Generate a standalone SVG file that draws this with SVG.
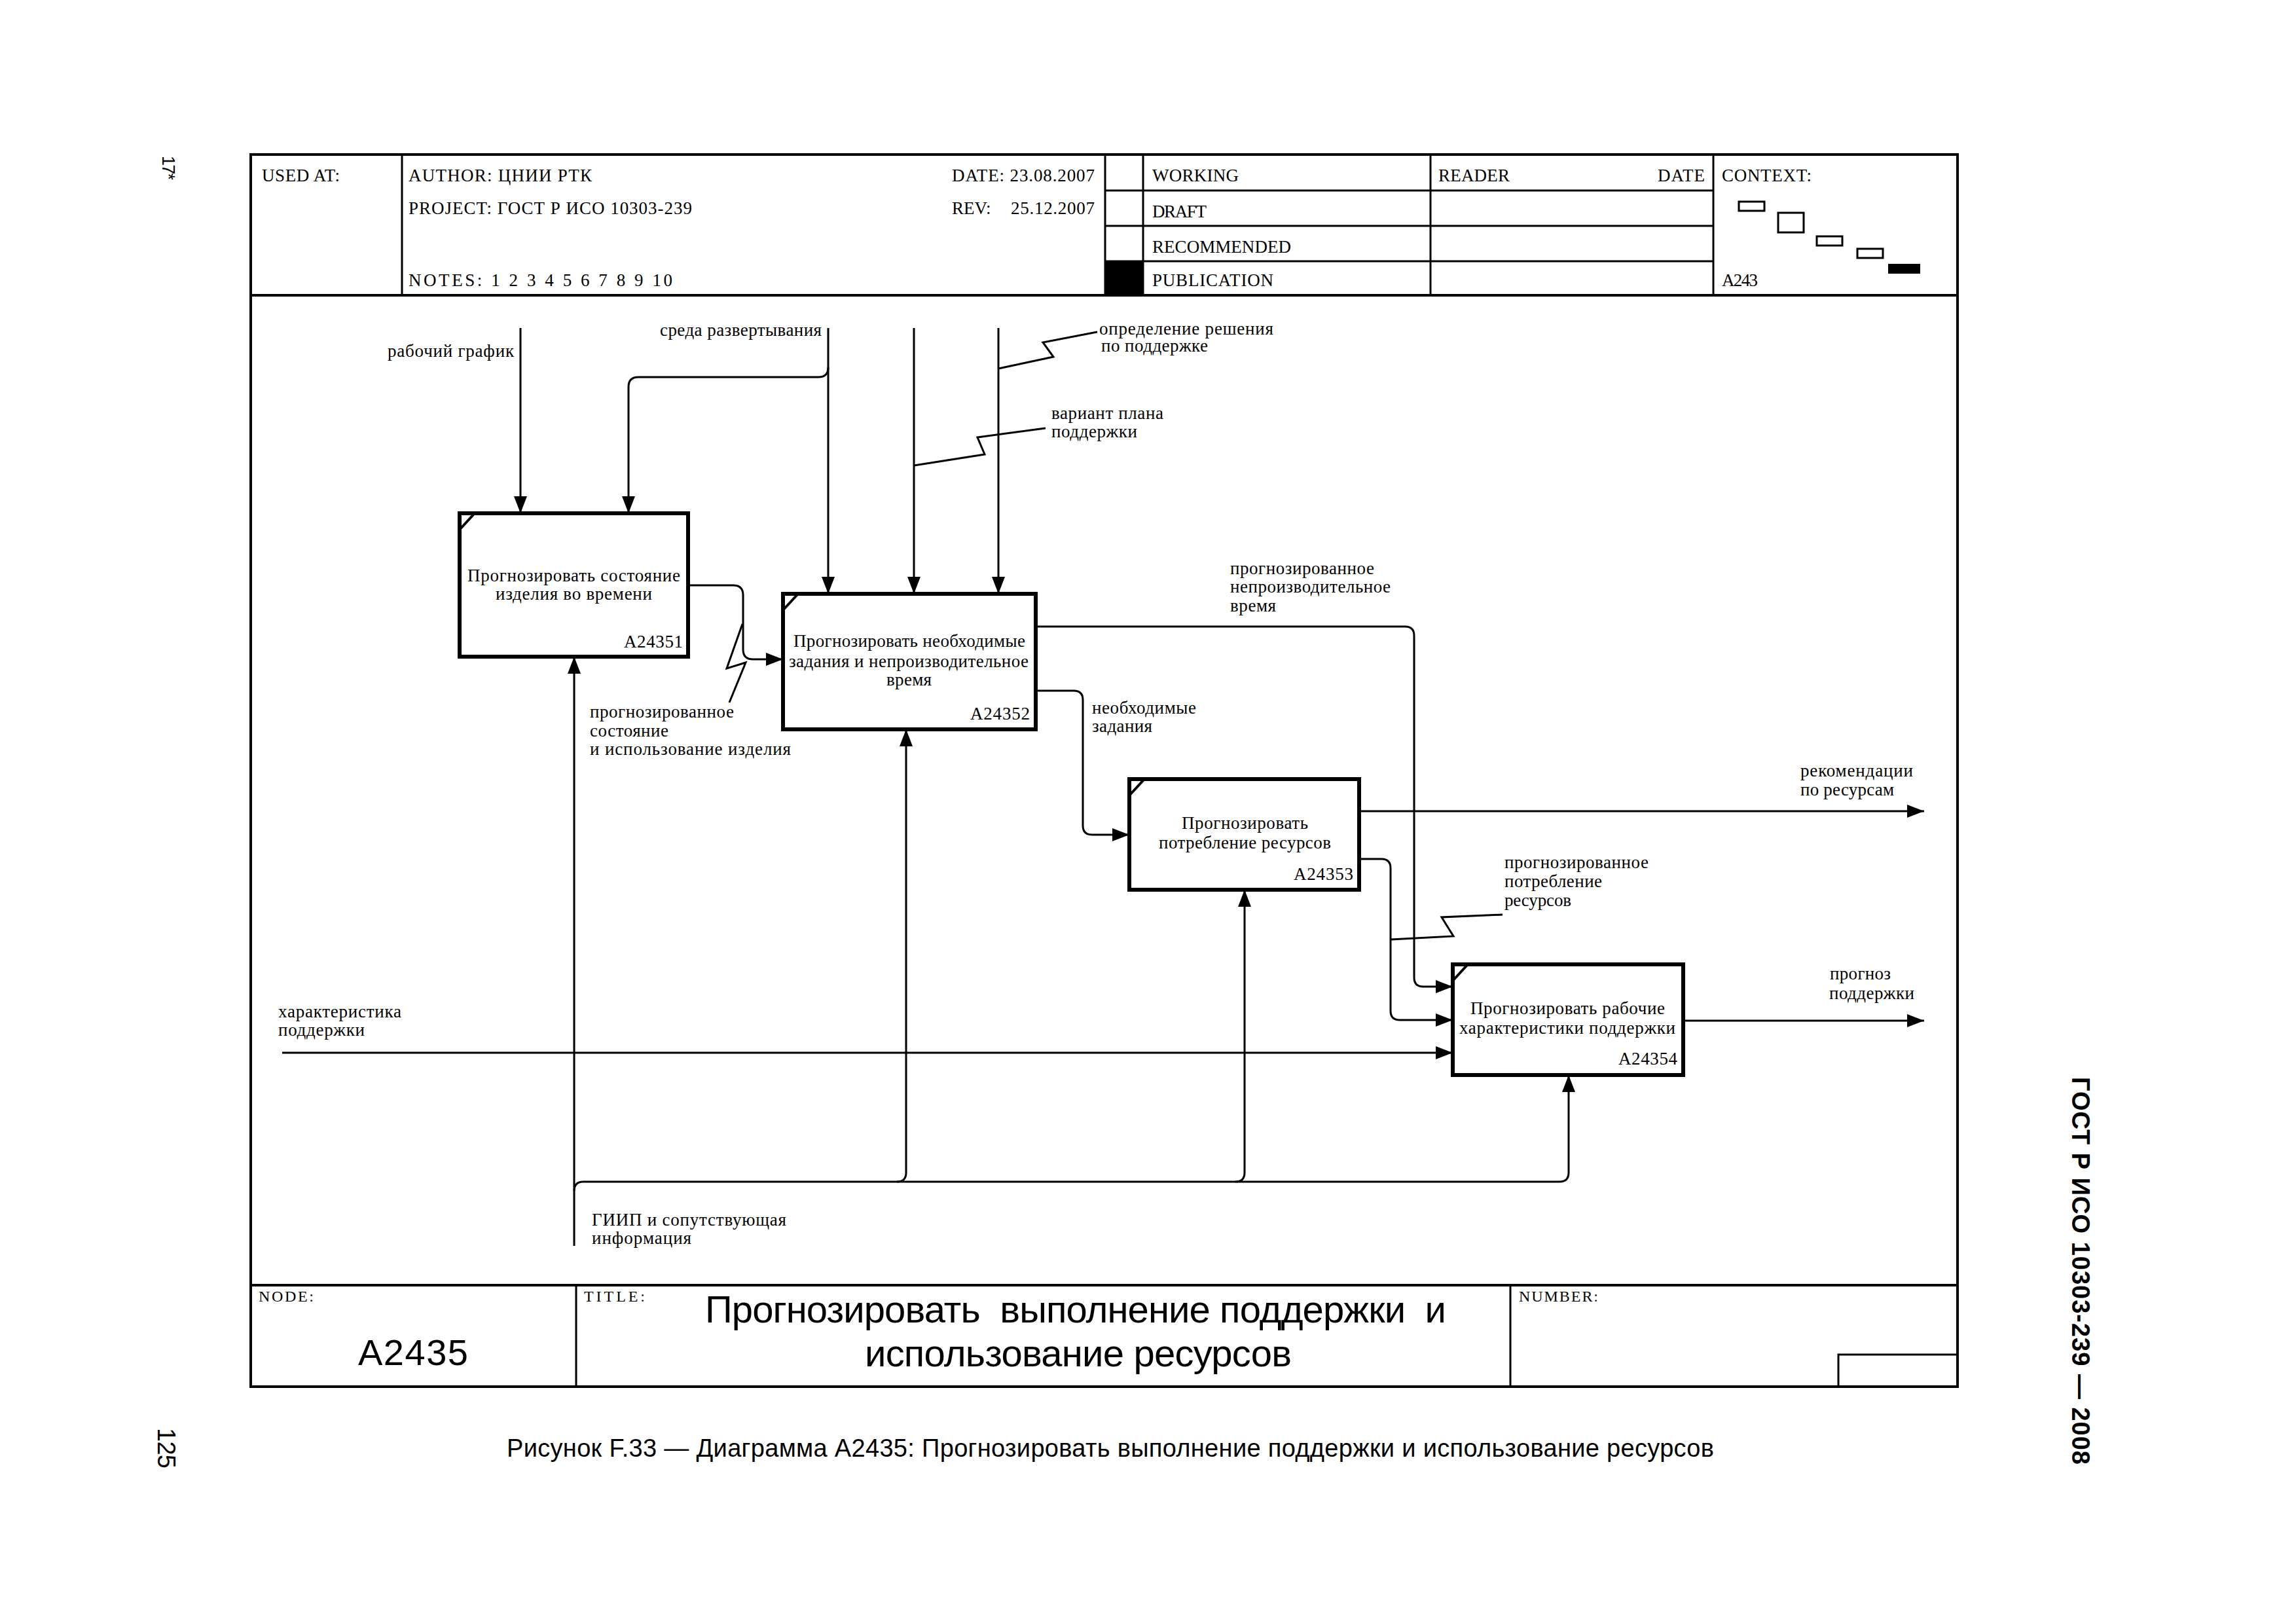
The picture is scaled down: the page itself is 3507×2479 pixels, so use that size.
<svg xmlns="http://www.w3.org/2000/svg" width="3507" height="2479" viewBox="0 0 3507 2479">
<style>
.bg{fill:#fff}
.fo{fill:none;stroke:#000;stroke-width:4}
.fi{fill:none;stroke:#000;stroke-width:3}
.box{fill:#fff;stroke:#000;stroke-width:6}
.tick{fill:none;stroke:#000;stroke-width:4}
.c{fill:none;stroke:#000;stroke-width:3;stroke-linejoin:round}
.sq{fill:none;stroke:#000;stroke-width:3;stroke-linejoin:miter}
.ar{marker-end:url(#ah)}
.t{font-family:'Liberation Serif','Times New Roman',serif;font-size:27px;fill:#000}
.h{font-family:'Liberation Serif','Times New Roman',serif;font-size:27px;fill:#000}
.sans{font-family:'Liberation Sans',Arial,sans-serif;fill:#000}
</style>
<defs>
<marker id="ah" markerWidth="26" markerHeight="20" refX="26" refY="10" orient="auto" markerUnits="userSpaceOnUse">
<path d="M0,0 L26,10 L0,20 z" fill="#000"/>
</marker>
</defs>
<rect class="bg" x="0" y="0" width="3507" height="2479"/>

<g id="frame">
<rect class="fo" x="383" y="236" width="2607" height="1882"/>
<line class="fo" x1="383" y1="451" x2="2990" y2="451"/>
<line class="fo" x1="383" y1="1963" x2="2990" y2="1963"/>
<line class="fi" x1="614" y1="236" x2="614" y2="451"/>
<line class="fi" x1="1688" y1="236" x2="1688" y2="451"/>
<line class="fi" x1="1746" y1="236" x2="1746" y2="451"/>
<line class="fi" x1="2185" y1="236" x2="2185" y2="451"/>
<line class="fi" x1="2617" y1="236" x2="2617" y2="451"/>
<line class="fi" x1="1688" y1="291" x2="2617" y2="291"/>
<line class="fi" x1="1688" y1="345" x2="2617" y2="345"/>
<line class="fi" x1="1688" y1="399" x2="2617" y2="399"/>
<rect x="1688" y="399" width="58" height="52" fill="#000"/>
<line class="fi" x1="880" y1="1963" x2="880" y2="2118"/>
<line class="fi" x1="2307" y1="1963" x2="2307" y2="2118"/>
<polyline class="fi" points="2808,2118 2808,2069 2990,2069"/>
<rect x="2656" y="308" width="39" height="14" fill="none" stroke="#000" stroke-width="3"/>
<rect x="2716" y="325" width="39" height="30" fill="none" stroke="#000" stroke-width="3"/>
<rect x="2775" y="361" width="39" height="14" fill="none" stroke="#000" stroke-width="3"/>
<rect x="2837" y="380" width="39" height="14" fill="none" stroke="#000" stroke-width="3"/>
<rect x="2884" y="403" width="49" height="15" fill="#000"/>
<text class="h" x="400" y="277" textLength="119">USED AT:</text>
<text class="h" x="624" y="277" textLength="280">AUTHOR: ЦНИИ РТК</text>
<text class="h" x="1454" y="277" textLength="218">DATE: 23.08.2007</text>
<text class="h" x="624" y="327" textLength="433">PROJECT: ГОСТ Р ИСО 10303-239</text>
<text class="h" x="1454" y="327">REV:</text>
<text class="h" x="1544" y="327" textLength="128">25.12.2007</text>
<text class="h" x="624" y="437" textLength="403">NOTES: 1 2 3 4 5 6 7 8 9 10</text>
<text class="h" x="1760" y="277" textLength="132">WORKING</text>
<text class="h" x="2197" y="277" textLength="109">READER</text>
<text class="h" x="2532" y="277" textLength="72">DATE</text>
<text class="h" x="2630" y="277" textLength="137">CONTEXT:</text>
<text class="h" x="1760" y="332" textLength="83">DRAFT</text>
<text class="h" x="1760" y="386" textLength="212">RECOMMENDED</text>
<text class="h" x="1760" y="437" textLength="185">PUBLICATION</text>
<text class="h" x="2630" y="437" textLength="55">A243</text>
<text class="h" x="395" y="1988" style="font-size:24px" textLength="84">NODE:</text>
<text class="h" x="892" y="1988" style="font-size:24px" textLength="93">TITLE:</text>
<text class="h" x="2320" y="1988" style="font-size:24px" textLength="121">NUMBER:</text>
<text class="sans" x="547" y="2085" style="font-size:56px" textLength="168">A2435</text>
<text class="sans" x="1077" y="2020" style="font-size:58px;white-space:pre" xml:space="preserve" textLength="1132">Прогнозировать  выполнение поддержки  и</text>
<text class="sans" x="1321" y="2087" style="font-size:58px" textLength="652">использование ресурсов</text>
<text class="sans" x="774" y="2225" style="font-size:38px" textLength="1844">Рисунок F.33 — Диаграмма A2435: Прогнозировать выполнение поддержки и использование ресурсов</text>
<text class="sans" transform="translate(3165,1645) rotate(90)" x="0" y="0" style="font-size:38px;font-weight:bold" textLength="592">ГОСТ Р ИСО 10303-239 — 2008</text>
<text class="sans" transform="translate(248,238) rotate(90)" x="0" y="0" style="font-size:27px" textLength="37">17*</text>
<text class="sans" transform="translate(241,2181) rotate(90)" x="0" y="0" style="font-size:38px" textLength="62">125</text>
</g>

<g id="connectors">
<path class="c ar" d="M795,501 V784"/>
<path class="c ar" d="M1265,501 V907"/>
<path class="c ar" d="M1265,561 Q1265,576 1250,576 H975 Q960,576 960,591 V784"/>
<path class="c ar" d="M1396,501 V907"/>
<path class="c ar" d="M1525,501 V907"/>
<path class="c ar" d="M1051,894 H1120 Q1135,894 1135,909 V992 Q1135,1007 1150,1007 H1196"/>
<path class="c ar" d="M1582,957 H2146 Q2160,957 2160,971 V1493 Q2160,1507 2174,1507 H2219"/>
<path class="c ar" d="M1582,1055 H1640 Q1654,1055 1654,1069 V1261 Q1654,1275 1668,1275 H1725"/>
<path class="c ar" d="M2076,1239 H2939"/>
<path class="c ar" d="M2076,1312 H2110 Q2124,1312 2124,1326 V1544 Q2124,1558 2138,1558 H2219"/>
<path class="c ar" d="M2571,1559 H2939"/>
<path class="c ar" d="M431,1608 H2219"/>
<path class="c ar" d="M877,1903 V1003"/>
<path class="c ar" d="M877,1819 Q877,1805 891,1805 H2382 Q2396,1805 2396,1791 V1642"/>
<path class="c ar" d="M1370,1805 Q1384,1805 1384,1791 V1114"/>
<path class="c ar" d="M1887,1805 Q1901,1805 1901,1791 V1359"/>
<polyline class="sq" points="1525,563 1609,545 1593,523 1676,507"/>
<polyline class="sq" points="1396,711 1504,694 1493,668 1597,654"/>
<polyline class="sq" points="1134,953 1110,1021 1139,1012 1114,1073"/>
<polyline class="sq" points="2124,1435 2220,1430 2202,1401 2295,1397"/>
</g>

<g id="labels">
<text class="t" x="592" y="545" textLength="193">рабочий график</text>
<text class="t" x="1008" y="513" textLength="247">среда развертывания</text>
<text class="t" x="1679" y="511" textLength="266">определение решения</text>
<text class="t" x="1682" y="537" textLength="163">по поддержке</text>
<text class="t" x="1606" y="640" textLength="171">вариант плана</text>
<text class="t" x="1606" y="668" textLength="131">поддержки</text>
<text class="t" x="901" y="1096" textLength="220">прогнозированное</text>
<text class="t" x="901" y="1125" textLength="120">состояние</text>
<text class="t" x="901" y="1153" textLength="307">и использование изделия</text>
<text class="t" x="1879" y="877" textLength="220">прогнозированное</text>
<text class="t" x="1879" y="905" textLength="245">непроизводительное</text>
<text class="t" x="1879" y="934" textLength="70">время</text>
<text class="t" x="1668" y="1090" textLength="159">необходимые</text>
<text class="t" x="1668" y="1118" textLength="92">задания</text>
<text class="t" x="2750" y="1186" textLength="172">рекомендации</text>
<text class="t" x="2750" y="1215" textLength="143">по ресурсам</text>
<text class="t" x="2298" y="1326" textLength="220">прогнозированное</text>
<text class="t" x="2298" y="1355" textLength="149">потребление</text>
<text class="t" x="2298" y="1384" textLength="102">ресурсов</text>
<text class="t" x="2795" y="1496" textLength="93">прогноз</text>
<text class="t" x="2794" y="1526" textLength="130">поддержки</text>
<text class="t" x="425" y="1554" textLength="188">характеристика</text>
<text class="t" x="425" y="1582" textLength="132">поддержки</text>
<text class="t" x="904" y="1872" textLength="297">ГИИП и сопутствующая</text>
<text class="t" x="904" y="1900" textLength="152">информация</text>
</g>

<g id="node-A24351">
<rect class="box" x="702" y="784" width="349" height="219"/>
<line class="tick" x1="702" y1="809" x2="725" y2="784"/>
<text class="t" x="714" y="888" textLength="325">Прогнозировать состояние</text>
<text class="t" x="757" y="916" textLength="239">изделия во времени</text>
<text class="t" x="953" y="989" textLength="90">A24351</text>
</g>

<g id="node-A24352">
<rect class="box" x="1196" y="907" width="386" height="207"/>
<line class="tick" x1="1196" y1="932" x2="1219" y2="907"/>
<text class="t" x="1212" y="988" textLength="354">Прогнозировать необходимые</text>
<text class="t" x="1205" y="1019" textLength="366">задания и непроизводительное</text>
<text class="t" x="1354" y="1047" textLength="69">время</text>
<text class="t" x="1482" y="1099" textLength="91">A24352</text>
</g>

<g id="node-A24353">
<rect class="box" x="1725" y="1190" width="351" height="169"/>
<line class="tick" x1="1725" y1="1215" x2="1748" y2="1190"/>
<text class="t" x="1805" y="1266" textLength="193">Прогнозировать</text>
<text class="t" x="1770" y="1296" textLength="263">потребление ресурсов</text>
<text class="t" x="1976" y="1344" textLength="91">A24353</text>
</g>

<g id="node-A24354">
<rect class="box" x="2219" y="1473" width="352" height="169"/>
<line class="tick" x1="2219" y1="1498" x2="2242" y2="1473"/>
<text class="t" x="2246" y="1549" textLength="297">Прогнозировать рабочие</text>
<text class="t" x="2229" y="1579" textLength="330">характеристики поддержки</text>
<text class="t" x="2472" y="1626" textLength="90">A24354</text>
</g>
</svg>
